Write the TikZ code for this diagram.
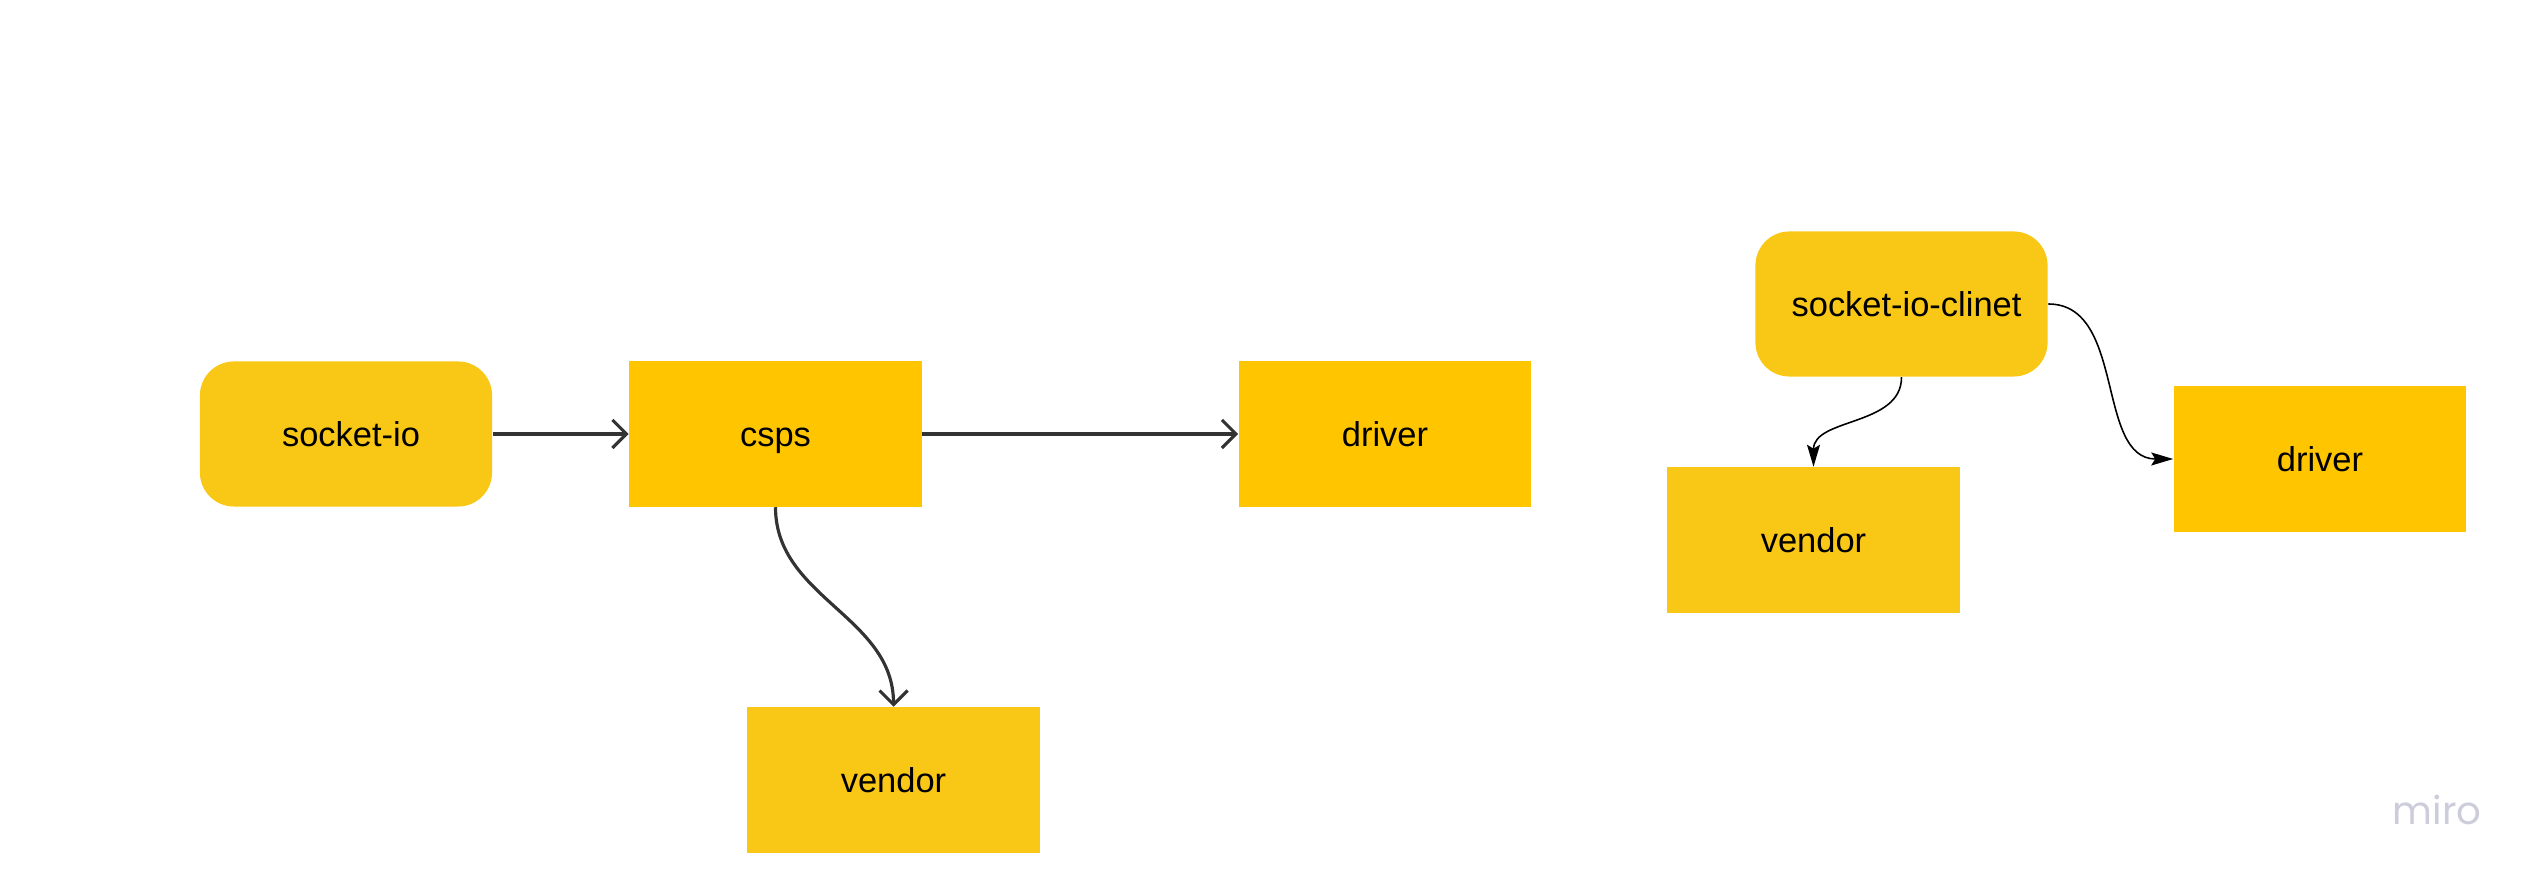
\documentclass[tikz,border=0pt]{standalone}
\usepackage{fontspec}
\setmainfont{Liberation Sans}
\newfontfamily\mirofont{Poppins}
\usetikzlibrary{arrows.meta}
\definecolor{ylwA}{RGB}{249,199,21}
\definecolor{ylwB}{RGB}{255,198,0}
\definecolor{lnk}{RGB}{51,51,51}
\definecolor{mirogray}{RGB}{204,204,219}
\tikzset{
  box/.style={minimum width=2.92cm, minimum height=1.45cm, inner sep=0pt, text height=0.32cm, text depth=0.07cm, font=\fontsize{9.8pt}{11pt}\selectfont, text=black},
  roundbox/.style={box, fill=ylwA, rounded corners=0.34cm},
  boxA/.style={box, fill=ylwA},
  boxB/.style={box, fill=ylwB},
  leftarrow/.style={draw=lnk, line width=0.9pt, -{Straight Barb[length=0.14cm,width=0.28cm]}},
  rightarrow/.style={draw=black, line width=0.45pt, -{Stealth[length=0.22cm,width=0.13cm,inset=0.04cm]}}
}
\begin{document}
\begin{tikzpicture}[x=0.01cm,y=-0.01cm]
\path[use as bounding box, fill=white] (0,0) rectangle (2536,886);
\node[roundbox] (sio) at (346,434) {\hspace{0.1cm}socket-io};
\node[boxB] (csps) at (775.5,434) {csps};
\node[boxB] (drv1) at (1385,434) {driver};
\node[boxA] (ven1) at (893.5,780) {vendor};
\node[roundbox] (sioc) at (1901.5,304) {\hspace{0.1cm}socket-io-clinet};
\node[boxA] (ven2) at (1813.5,540) {vendor};
\node[boxB] (drv2) at (2320,459) {driver};
\node[text=mirogray, font=\mirofont\fontsize{11pt}{12pt}\selectfont] (miro) at (2437,810) {miro};
\draw[leftarrow] (sio.east) -- (csps.west);
\draw[leftarrow] (csps.east) -- (drv1.west);
\draw[leftarrow] (csps.south) to[out=-90,in=90] (ven1.north);
\draw[rightarrow] (sioc.south) to[out=-90,in=90] (ven2.north);
\draw[rightarrow] (sioc.east) to[out=0,in=180] (drv2.west);
\end{tikzpicture}
\end{document}
